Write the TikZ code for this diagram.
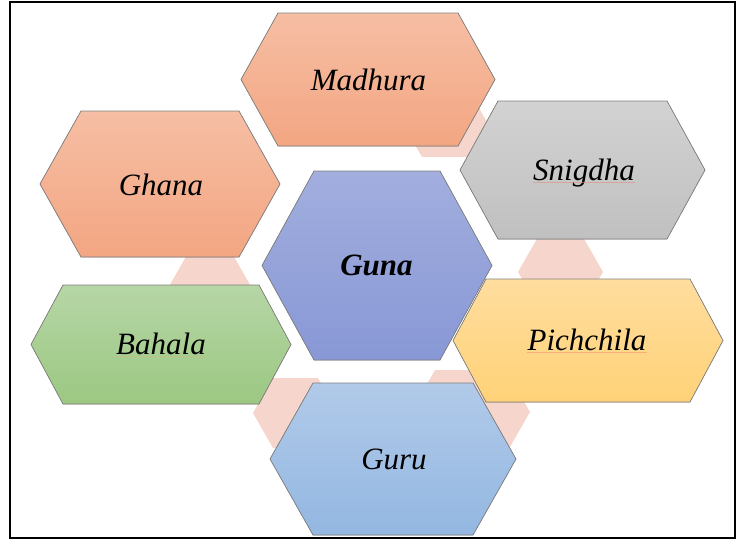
\documentclass[tikz,border=0pt]{standalone}
\usepackage{fontspec}
\setmainfont{Liberation Serif}
\definecolor{pinkc}{RGB}{246,214,204}
\definecolor{orT}{RGB}{246,190,164}
\definecolor{orB}{RGB}{243,166,130}
\definecolor{grT}{RGB}{210,210,210}
\definecolor{grB}{RGB}{192,192,192}
\definecolor{blT}{RGB}{162,174,222}
\definecolor{blB}{RGB}{136,152,214}
\definecolor{gnT}{RGB}{182,214,166}
\definecolor{gnB}{RGB}{156,200,130}
\definecolor{ylT}{RGB}{255,221,158}
\definecolor{ylB}{RGB}{255,210,120}
\definecolor{lbT}{RGB}{177,202,233}
\definecolor{lbB}{RGB}{147,183,225}
\definecolor{edgec}{RGB}{128,128,128}
\definecolor{sqA}{RGB}{225,140,130}
\definecolor{sqB}{RGB}{205,185,130}
\definecolor{sqC}{RGB}{245,150,110}
\newcommand\hexa[6]{% cx, cy, width, height, inset, style
  \filldraw[#6] (#1-#3/2,#2) -- (#1-#3/2+#5,#2-#4/2) -- (#1+#3/2-#5,#2-#4/2)
    -- (#1+#3/2,#2) -- (#1+#3/2-#5,#2+#4/2) -- (#1-#3/2+#5,#2+#4/2) -- cycle;}
\tikzset{
  link/.style={fill=pinkc, draw=none},
  hexbox/.style={draw=edgec, line width=0.7pt},
  label/.style={inner sep=0pt, anchor=base, font=\fontsize{31}{37}\selectfont\itshape},
  squiggle/.style={line width=0.7pt, opacity=0.6}
}
\begin{document}
\begin{tikzpicture}[x=1pt,y=-1pt]
\useasboundingbox (0,0) rectangle (738,542);
% connector hexagons (behind)
\hexa{444.5}{122}{85}{70}{20}{link}
\hexa{210}{289}{85}{70}{20}{link}
\hexa{560.5}{272}{85}{70}{20}{link}
\hexa{295.5}{413}{85}{70}{20}{link}
\hexa{470.5}{412}{119}{84}{24}{link}
% main hexagons
\hexa{368}{79.5}{254}{133}{37}{hexbox, top color=orT, bottom color=orB}
\hexa{160}{184}{240}{146}{41}{hexbox, top color=orT, bottom color=orB}
\hexa{582.5}{170}{245}{138}{38}{hexbox, top color=grT, bottom color=grB}
\hexa{161}{344.5}{260}{119}{32}{hexbox, top color=gnT, bottom color=gnB}
\hexa{588}{340.5}{270}{123}{33}{hexbox, top color=ylT, bottom color=ylB}
\hexa{377}{265.5}{230}{189}{52}{hexbox, top color=blT, bottom color=blB}
\hexa{393}{459}{246}{152}{43}{hexbox, top color=lbT, bottom color=lbB}
% labels
\node[label] (madhura) at (368.5,90) {Madhura};
\node[label] (ghana) at (161,195) {Ghana};
\node[label] (snigdha) at (584,180) {Snigdha};
\node[label, font=\fontsize{31}{37}\selectfont\bfseries\itshape] (guna) at (376.5,275) {Guna};
\node[label] (bahala) at (161,354) {Bahala};
\node[label] (pichchila) at (587,350) {Pichchila};
\node[label] (guru) at (394,469) {Guru};
% spell-check underlines
\draw[squiggle, sqA] ([yshift=-2pt]snigdha.base west) -- ([yshift=-2pt]snigdha.base east);
\draw[squiggle, sqB] ([yshift=-2pt]bahala.base west) -- ([yshift=-2pt]bahala.base east);
\draw[squiggle, sqC] ([yshift=-2pt]pichchila.base west) -- ([yshift=-2pt]pichchila.base east);
% frame
\draw[line width=2pt] (10,2) rectangle (735,538);
\end{tikzpicture}
\end{document}
